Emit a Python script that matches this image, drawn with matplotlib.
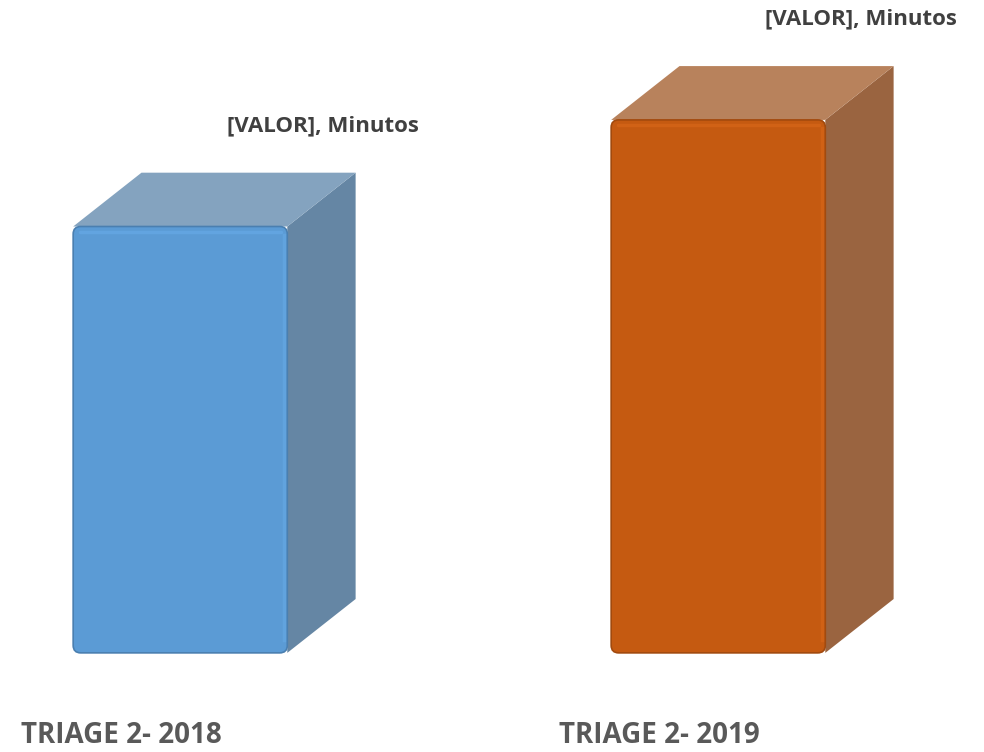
import matplotlib.pyplot as plt
from matplotlib.patches import Polygon, FancyBboxPatch

# data (value labels are Excel placeholders in the source)
categories = ['TRIAGE 2- 2018', 'TRIAGE 2- 2019']
values = [8.0, 10.0]
value_labels = ['[VALOR], Minutos', '[VALOR], Minutos']

front_colors = ['#5B9BD5', '#C55A11']
top_colors = ['#84A3BF', '#B8825C']
side_colors = ['#6586A4', '#9A6440']
highlight = ['#6AAEEB', '#DE6A1C']
shadow = ['#4A7FB0', '#A24A0E']

plt.rcParams['font.family'] = ['Open Sans', 'DejaVu Sans']

fig = plt.figure(figsize=(9.84, 7.52), dpi=100)
ax = fig.add_axes([0, 0, 1, 1])
ax.set_xlim(-0.335, 1.494)
ax.set_ylim(-1.86, 12.25)
ax.axis('off')

width = 0.398
dx, dy = 0.127, 1.01
aspect = (984 / 1.829) / (752 / 14.11)

for i, v in enumerate(values):
    x0 = i - width / 2
    x1 = i + width / 2
    # side face
    ax.add_patch(Polygon([(x1, 0), (x1 + dx, dy), (x1 + dx, v + dy), (x1, v)],
                         closed=True, fc=side_colors[i], ec='none'))
    # top face
    ax.add_patch(Polygon([(x0, v), (x0 + dx, v + dy), (x1 + dx, v + dy), (x1, v)],
                         closed=True, fc=top_colors[i], ec='none'))
    # front face, slightly rounded
    ax.add_patch(FancyBboxPatch((x0, 0), width, v,
                                boxstyle='round,pad=0,rounding_size=0.014',
                                mutation_aspect=aspect,
                                fc=front_colors[i], ec=shadow[i], lw=1.2))
    # soft bevel highlights along top and right edge
    ax.plot([x0 + 0.012, x1 - 0.012], [v - 0.1, v - 0.1], color=highlight[i], lw=2.5,
            solid_capstyle='round', alpha=0.5)
    ax.plot([x1 - 0.007, x1 - 0.007], [0.25, v - 0.15], color=highlight[i], lw=2.5,
            alpha=0.45)
    ax.text(i + 0.266, v + 1.89, value_labels[i], ha='center', va='center',
            fontsize=16, fontweight='bold', color='#404040')
    ax.text(i - 0.11, -1.55, categories[i], ha='center', va='center',
            fontsize=20, fontweight='bold', color='#595959')

fig.savefig('out.png', dpi=100)
